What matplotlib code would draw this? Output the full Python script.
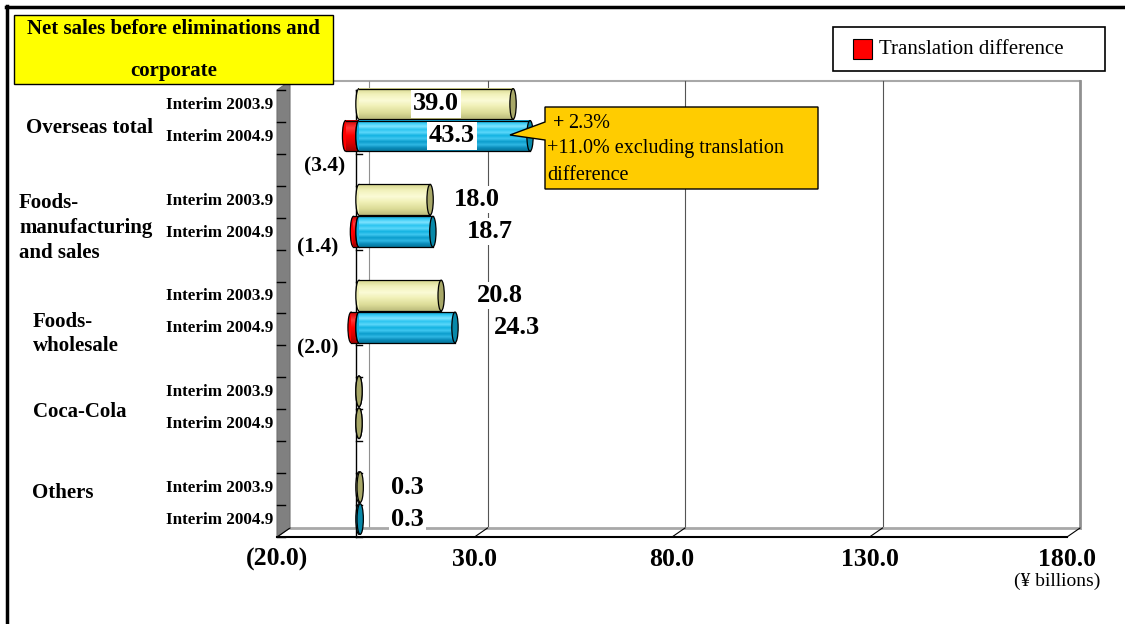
import numpy as np
import matplotlib.pyplot as plt
from matplotlib.patches import Rectangle, Ellipse, Polygon
from matplotlib.lines import Line2D
from matplotlib.transforms import Affine2D
from matplotlib.colors import LinearSegmentedColormap

plt.rcParams['font.family'] = ['Liberation Serif', 'DejaVu Serif']

# data (¥ billions)
segments = ["Overseas total", "Foods-\nmanufacturing\nand sales", "Foods-\nwholesale", "Coca-Cola", "Others"]
periods = ["Interim 2003.9", "Interim 2004.9"]
sales_2003 = [39.0, 18.0, 20.8, 0.0, 0.3]
sales_2004 = [43.3, 18.7, 24.3, 0.0, 0.3]
translation = [-3.4, -1.4, -2.0, 0.0, 0.0]
x_ticks = [-20, 30, 80, 130, 180]
x_tick_labels = ["(20.0)", "30.0", "80.0", "130.0", "180.0"]

# where the value labels sit (x in data units)
lab_x_2003 = [19.5, 29.9, 35.7, None, 12.2]
lab_x_2004 = [23.5, 33.2, 40.0, None, 12.2]
neg_lab_pos = [(-8.6, 2.47), (-10.4, 4.98), (-10.4, 8.17), None, None]
group_lab_px = [(26, 128), (19, 228), (33, 334), (33, 412), (32, 493)]

W, H = 1125, 624
fig = plt.figure(figsize=(W / 100, H / 100), dpi=100)
px = Affine2D().scale(1 / W, -1 / H).translate(0, 1) + fig.transFigure

ax = fig.add_axes([280 / W, 1 - 535 / H, 790 / W, 447 / H])
n_slots = 14
FX, FY = -3 / 3.95, 2 / 31.93      # front plane offset
BX, BY = 10 / 3.95, -7 / 31.93     # back plane offset

# back wall, grid and floor
ax.plot([-20 + BX, 180 + BX], [BY, BY], color='#a8a8a8', lw=1.5, clip_on=False)
ax.plot([180 + BX] * 2, [BY, n_slots + BY], color='#909090', lw=2, clip_on=False)
for v in x_ticks[1:-1]:
    ax.plot([v + BX] * 2, [BY, n_slots + BY], color='#555555', lw=0.8, clip_on=False)
ax.plot([BX] * 2, [BY, n_slots + BY], color='#909090', lw=0.8, clip_on=False)
ax.plot([-20 + BX, 180 + BX], [n_slots + BY] * 2, color='#a8a8a8', lw=2, clip_on=False)
ax.plot([-20 + FX, 180 + FX], [n_slots + FY] * 2, color='black', lw=1.5, clip_on=False)
for v in x_ticks:
    ax.plot([v + FX, v + BX], [n_slots + FY, n_slots + BY], color='black', lw=0.8, clip_on=False)

# side wall
ax.add_patch(Polygon([(-20 + FX, FY), (-20 + BX, BY), (-20 + BX, n_slots + BY), (-20 + FX, n_slots + FY)],
                     closed=True, fc='#808080', ec='#707070', lw=0.8, clip_on=False))
for k in range(n_slots + 1):
    ax.plot([-20 + FX, -20 + FX + 2.0], [k + FY] * 2, color='black', lw=1, clip_on=False)

# zero axis
ax.plot([FX, FX], [FY, n_slots + FY], color='black', lw=1, clip_on=False, zorder=2)
for k in range(n_slots + 1):
    ax.plot([FX, FX + 1.5], [k + FY] * 2, color='black', lw=1, clip_on=False, zorder=2)

yellow = (['#d6d68c', '#f2f2bc', '#fbfbd6', '#efefb4', '#dcdc98', '#bcbc7c'], '#a8a868')
cyan = (['#0aa4d4', '#3ccdf6', '#7fe3ff', '#2ac4f0', '#5cd8fa', '#12b2e2', '#40c8f0',
         '#0a9ccc', '#30b8e4', '#0a8cba', '#06789e'], '#0888a8')
red = (['#c80000', '#ff3a3a', '#ff0000', '#d80000', '#a00000'], '#c00000')


def cylinder(x0, x1, yc, style, z):
    cols, cap = style
    h = 0.96
    top, bot = yc - h / 2, yc + h / 2
    cw = 1.6
    ax.add_patch(Ellipse((x0, yc), cw, h, fc=cols[len(cols) // 2], ec='black', lw=0.9, zorder=z, clip_on=False))
    if x1 - x0 > 0.5:
        cmap = LinearSegmentedColormap.from_list('c', cols)
        grad = np.linspace(0, 1, 80).reshape(-1, 1)
        ax.imshow(grad, cmap=cmap, extent=(x0, x1, bot, top), aspect='auto',
                  interpolation='bilinear', zorder=z + 0.1, clip_on=False)
        ax.plot([x0, x1], [top, top], color='black', lw=0.9, zorder=z + 0.15, clip_on=False)
        ax.plot([x0, x1], [bot, bot], color='black', lw=0.9, zorder=z + 0.15, clip_on=False)
    ax.add_patch(Ellipse((x1, yc), cw, h, fc=cap, ec='black', lw=0.9, zorder=z + 0.2, clip_on=False))


lab_font = dict(fontsize=19, fontweight='bold', ha='center', va='center', zorder=10,
                bbox=dict(fc='white', ec='none', pad=1.5))

for i in range(len(segments)):
    y03 = 3 * i + 0.5
    y04 = 3 * i + 1.5
    cylinder(0, sales_2003[i], y03, yellow, 3)
    if translation[i] < 0:
        cylinder(translation[i], 0, y04, red, 4)
    cylinder(0, sales_2004[i], y04, cyan if sales_2004[i] > 0 else yellow, 5)

    for yy, p in zip([y03, y04], periods):
        ax.text(-21.8, yy + 0.03, p, ha='right', va='center', fontsize=12.3, fontweight='bold')

    if lab_x_2003[i] is not None:
        ax.text(lab_x_2003[i], y03, f"{sales_2003[i]:.1f}", **lab_font)
        ax.text(lab_x_2004[i], y04, f"{sales_2004[i]:.1f}", **lab_font)
    if neg_lab_pos[i] is not None:
        ax.text(neg_lab_pos[i][0], neg_lab_pos[i][1], f"({abs(translation[i]):.1f})",
                ha='center', va='center', fontsize=15.5, fontweight='bold')

    gx, gy = group_lab_px[i]
    fig.text(gx, gy, segments[i], transform=px, ha='left', va='center',
             fontsize=15, fontweight='bold', linespacing=1.3)

for v, t in zip(x_ticks, x_tick_labels):
    ax.text(v + FX, 14.78, t, ha='center', va='center', fontsize=18.5, fontweight='bold')

ax.set_xlim(-20, 180)
ax.set_ylim(n_slots, 0)
ax.axis('off')

# title box
fig.add_artist(Rectangle((14, 15), 319, 69, transform=px, fc='#ffff00', ec='black', lw=1))
fig.text(173.5, 29, "Net sales before eliminations and", transform=px, ha='center', va='center',
         fontsize=15, fontweight='bold')
fig.text(173.5, 71, "corporate", transform=px, ha='center', va='center', fontsize=15, fontweight='bold')

# legend
fig.add_artist(Rectangle((833, 27), 272, 44, transform=px, fc='white', ec='black', lw=1.2))
fig.add_artist(Rectangle((853, 39), 19, 20, transform=px, fc='#ff0000', ec='black', lw=0.8))
fig.text(879, 49, "Translation difference", transform=px, ha='left', va='center', fontsize=15)

# callout
fig.add_artist(Polygon([(545, 107), (818, 107), (818, 189), (545, 189), (545, 140), (510, 135), (545, 122)],
                       closed=True, transform=px, fc='#ffcc00', ec='black', lw=1, zorder=5))
fig.text(553, 123, "+", transform=px, ha='left', va='center', fontsize=14.5, fontweight='bold', zorder=6)
fig.text(568, 123, "2.3%", transform=px, ha='left', va='center', fontsize=14.5, zorder=6)
fig.text(547, 149, "+11.0% excluding translation", transform=px, ha='left', va='center', fontsize=14.5, zorder=6)
fig.text(547, 175, "difference", transform=px, ha='left', va='center', fontsize=14.5, zorder=6)

fig.text(1100, 581, "(\u00a5 billions)", transform=px, ha='right', va='center', fontsize=14)

# outer frame
fig.add_artist(Line2D([7, 7], [6, 624], transform=px, color='black', lw=2.5))
fig.add_artist(Line2D([6, 1125], [7, 7], transform=px, color='black', lw=2.5))

fig.savefig("out.png", dpi=100)
